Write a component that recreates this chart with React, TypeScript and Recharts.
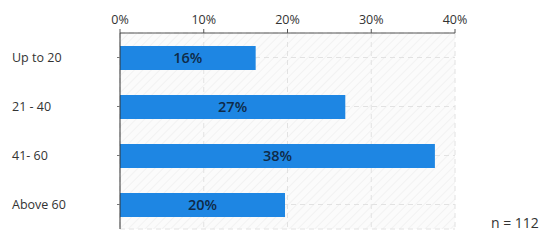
import { BarChart, Bar, XAxis, YAxis, CartesianGrid, LabelList } from "recharts";

const AGE_GROUPS = ["Up to 20", "21 - 40", "41- 60", "Above 60"];
const SHARES = [16.2, 26.9, 37.6, 19.7];
const PCT_TICKS = [0, 10, 20, 30, 40];
const SAMPLE_NOTE = "n = 112";

const data = AGE_GROUPS.map((name, i) => ({ name, value: SHARES[i] }));

const FONT = "'Open Sans', 'Noto Sans', sans-serif";

// left-aligned category labels
function AgeTick(props: any) {
  const { y, payload } = props;
  return (
    <text x={12} y={y} dy={4} textAnchor="start" fontSize={12.5} fill="#333" fontFamily={FONT}>
      {payload.value}
    </text>
  );
}

export default function App() {
  return (
    <div style={{ position: "fixed", left: 0, top: 0, width: 550, height: 242, background: "#fff", fontFamily: FONT }}>
      <svg width={0} height={0} style={{ position: "absolute" }}>
        <defs>
          <pattern id="hatch" width="6" height="6" patternUnits="userSpaceOnUse" patternTransform="rotate(45)">
            <rect width="6" height="6" fill="#fbfbfb" />
            <line x1="0" y1="0" x2="0" y2="6" stroke="#ececec" strokeWidth="1.2" />
          </pattern>
        </defs>
      </svg>
      <BarChart
        width={550}
        height={242}
        data={data}
        layout="vertical"
        margin={{ top: 0, right: 95, bottom: 13, left: 0 }}
        barCategoryGap={0}
      >
        <CartesianGrid stroke="#e2e2e2" strokeDasharray="5 4" fill="url(#hatch)" fillOpacity={1} />
        <XAxis
          type="number"
          orientation="top"
          domain={[0, 40]}
          ticks={PCT_TICKS}
          tickFormatter={(v: number) => `${v}%`}
          height={33}
          axisLine={{ stroke: "#555" }}
          tickLine={{ stroke: "#555" }}
          tickSize={4}
          tickMargin={5}
          tick={{ fontSize: 12.5, fill: "#333", fontFamily: FONT }}
        />
        <YAxis
          type="category"
          dataKey="name"
          width={120}
          axisLine={{ stroke: "#333" }}
          tickLine={{ stroke: "#777" }}
          tickSize={3}
          tick={<AgeTick />}
        />
        <Bar dataKey="value" fill="#1e86e3" barSize={24} isAnimationActive={false}>
          <LabelList
            dataKey="value"
            position="center"
            formatter={(v: any) => `${Math.round(v)}%`}
            style={{ fill: "#0f2a47", fontSize: 14.5, fontWeight: 600, fontFamily: FONT }}
          />
        </Bar>
      </BarChart>
      <div style={{ position: "absolute", left: 491, top: 213, fontSize: 14, color: "#333" }}>{SAMPLE_NOTE}</div>
    </div>
  );
}
